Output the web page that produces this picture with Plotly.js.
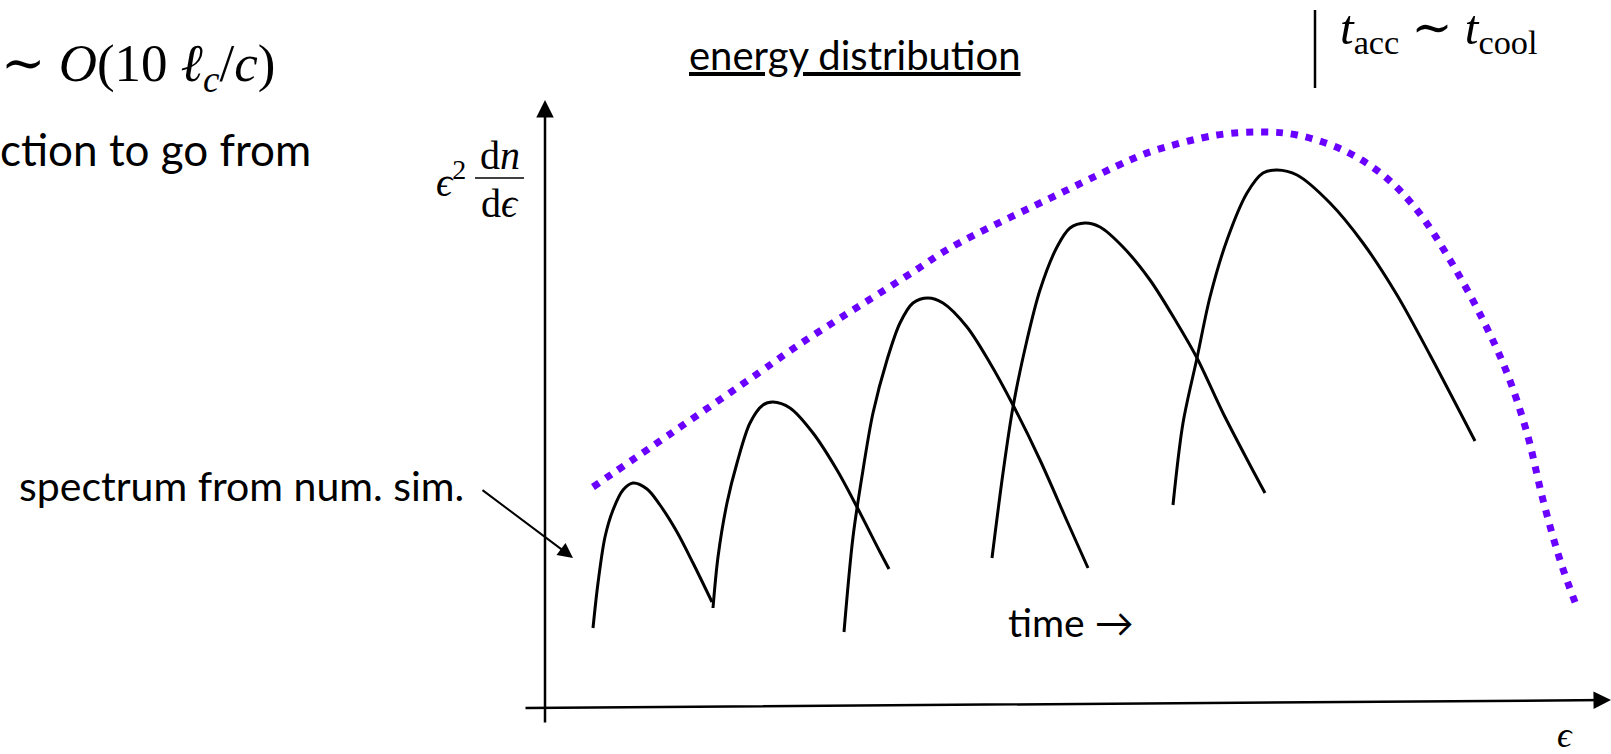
<!DOCTYPE html>
<html>
<head>
<meta charset="utf-8">
<script src="https://cdn.plot.ly/plotly-3.0.1.min.js"></script>
<style>
  html, body { margin: 0; padding: 0; background: #ffffff; }
  #chart { width: 1611px; height: 754px; }
</style>
</head>
<body>
<div id="chart"></div>
<script>
// Snapshots of the spectrum eps^2 dn/deps at successive times (arbitrary units,
// measured from the origin of the sketched axes).
const eps1  = [48, 53, 60, 68, 78, 88, 102, 115, 132, 148, 167];
const spec1 = [78, 123, 169, 196, 216, 223, 217, 201, 174, 143, 104];

const eps2  = [168, 173, 182, 192, 205, 218, 228, 245, 268, 292, 312, 335, 344];
const spec2 = [98, 149, 203, 243, 283, 301, 304, 298, 273, 236, 199, 154, 137];

const eps3  = [299, 308, 318, 328, 342, 355, 368, 383, 398, 422, 445, 468, 495, 522, 543];
const spec3 = [74, 169, 236, 293, 346, 383, 403, 408, 403, 379, 343, 301, 246, 185, 138];

const eps4  = [447, 458, 468, 482, 495, 512, 525, 540, 555, 578, 605, 632, 652, 678, 705, 720];
const spec4 = [148, 233, 299, 366, 416, 459, 478, 483, 479, 459, 426, 383, 348, 293, 241, 213];

const eps5  = [628, 638, 652, 665, 682, 702, 718, 732, 752, 785, 818, 852, 885, 930];
const spec5 = [201, 283, 348, 409, 466, 513, 533, 536, 531, 503, 463, 411, 351, 265];

// Envelope reached when t_acc ~ t_cool
const envEps  = [48, 128, 215, 255, 368, 405, 518, 585, 608, 672, 718, 752, 798, 838, 872, 905, 938, 962, 982, 998, 1015, 1033];
const envSpec = [219, 274, 334, 362, 434, 458, 514, 546, 555, 571, 574, 571, 556, 531, 496, 446, 386, 333, 273, 206, 146, 96];

const snapshots = [[eps1, spec1], [eps2, spec2], [eps3, spec3], [eps4, spec4], [eps5, spec5]];

const traces = snapshots.map(([x, y]) => ({
  x: x, y: y, type: 'scatter', mode: 'lines', hoverinfo: 'skip',
  line: { color: '#000000', width: 3, shape: 'spline', smoothing: 0.9 }
}));

traces.unshift({
  x: envEps, y: envSpec, type: 'scatter', mode: 'lines', hoverinfo: 'skip',
  line: { color: '#6a00ff', width: 7, dash: '7px,8px', shape: 'spline', smoothing: 1 }
});

const SANS = 'Lato, "Open Sans", sans-serif';
const SERIF = '"Liberation Serif", "DejaVu Serif", serif';

function label(text, x, y, size, family, xanchor, xshift) {
  return {
    text: text, x: x, y: y, xref: 'x', yref: 'y', showarrow: false,
    xanchor: xanchor || 'left', yanchor: 'middle', xshift: xshift || 0,
    font: { family: family, size: size, color: '#000000' }
  };
}

function arrow(x0, y0, x1, y1, width, size) {
  return {
    text: '', x: x1, y: y1, ax: x0, ay: y0,
    xref: 'x', yref: 'y', axref: 'x', ayref: 'y',
    showarrow: true, arrowhead: 2, arrowwidth: width, arrowsize: size,
    arrowcolor: '#000000', standoff: 0, startstandoff: 0
  };
}

const annotations = [
  // axes of the sketch
  arrow(0, -18, 0, 606, 2.5, 1.4),
  arrow(-21, -2, 1066, 6, 2.5, 1.4),
  // pointer to the first snapshot
  arrow(-64, 217, 28, 148, 2, 1.5),

  label('∼ <i>O</i>(10 <i>ℓ</i><sub><i>c</i></sub>/<i>c</i>)', -545, 639, 53, SERIF, 'left', -1),
  label('ction to go from', -545, 557, 44, SANS, 'left', -2),
  label('<u>energy distribution</u>', 310, 651, 40, SANS, 'center'),
  label('<i>t</i><sub>acc</sub> ∼ <i>t</i><sub>cool</sub>', 793, 676, 49, SERIF),

  // y-axis label: eps^2 dn/deps
  label('<i>ϵ</i><sup>2</sup>', -111, 527, 40, SERIF),
  label('d<i>n</i>', -45, 551, 40, SERIF, 'center'),
  label('d<i>ϵ</i>', -45, 503, 40, SERIF, 'center'),

  label('spectrum from num. sim.', -528, 221, 41, SANS),
  label('time →', 461, 84, 39, SANS),
  label('<i>ϵ</i>', 1020, -29, 36, SERIF, 'center')
];

const shapes = [
  // fraction bar of the y label
  { type: 'line', xref: 'x', yref: 'y', x0: -70, x1: -21, y0: 528, y1: 528,
    line: { color: '#000000', width: 1.5 } },
  // separator next to t_acc ~ t_cool
  { type: 'line', xref: 'x', yref: 'y', x0: 770, x1: 770, y0: 696, y1: 618,
    line: { color: '#000000', width: 2.5 } }
];

const layout = {
  width: 1611, height: 754,
  margin: { l: 0, r: 0, t: 0, b: 0, pad: 0 },
  paper_bgcolor: '#ffffff', plot_bgcolor: '#ffffff',
  showlegend: false,
  xaxis: { range: [-545, 1066], visible: false, fixedrange: true },
  yaxis: { range: [-48, 706], visible: false, fixedrange: true },
  annotations: annotations,
  shapes: shapes
};

Plotly.newPlot('chart', traces, layout, { staticPlot: true, displayModeBar: false });
</script>
</body>
</html>
